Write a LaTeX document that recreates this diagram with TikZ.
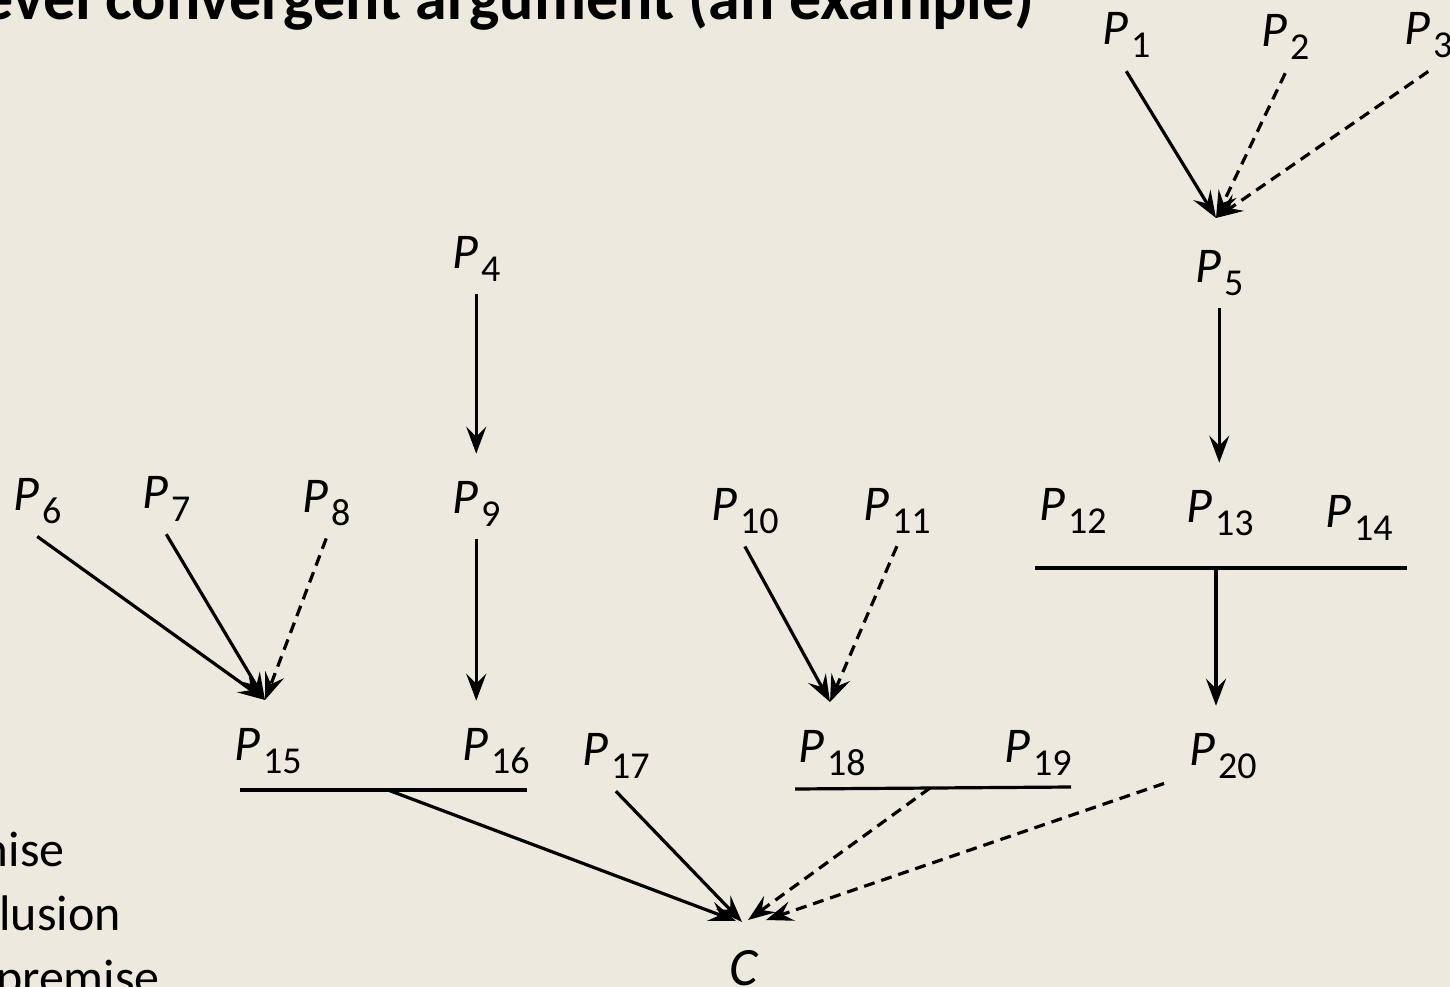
\documentclass[tikz,border=0pt]{standalone}
\usepackage{fontspec}
\setmainfont{Carlito}
\usetikzlibrary{arrows.meta,calc}
\definecolor{bg}{RGB}{237,233,223}
\newcommand\plab[1]{\fontsize{50}{50}\selectfont\textit{P}\hspace{3pt}\raisebox{-13pt}{\fontsize{38}{38}\selectfont #1}}
\begin{document}
\begin{tikzpicture}[x=1pt,y=-1pt,
  lab/.style={anchor=base west, inner xsep=0pt, inner ysep=13pt},
  con/.style={line width=3.2pt, -{Stealth[length=27pt,width=20pt,inset=10pt]}},
  dsh/.style={con, dash pattern=on 11pt off 7pt},
  vcon/.style={con, shorten >=14pt},
  bar/.style={line width=3.2pt},
  side/.style={inner sep=0pt, font=\fontsize{50}{50}\selectfont}]
\useasboundingbox (0,0) rectangle (1450,987);
\fill[bg] (0,0) rectangle (1450,987);
\clip (0,0) rectangle (1450,987);

% title (cut at top)
\node[anchor=base east, inner sep=0pt, font=\fontsize{64}{64}\selectfont\bfseries] (title) at (1035,20) {Multi-level convergent argument (an example)};

% left list (cut at left)
\node[side, anchor=base east] (l1) at (65,866) {premise};
\node[side, anchor=base east] (l2) at (121,930) {conclusion};
\node[side, anchor=base east] (l3) at (160,994) {premise};

% labels
\node[lab] (p1) at (1102,45) {\plab{1}};
\node[lab] (p2) at (1261,47) {\plab{2}};
\node[lab] (p3) at (1404,45) {\plab{3}};
\node[lab] (p4) at (452,268) {\plab{4}};
\node[lab] (p5) at (1195,282) {\plab{5}};
\node[lab] (p6) at (13,510) {\plab{6}};
\node[lab] (p7) at (142,508) {\plab{7}};
\node[lab] (p8) at (302,512) {\plab{8}};
\node[lab] (p9) at (452,513) {\plab{9}};
\node[lab] (p10) at (711,520) {\plab{10}};
\node[lab] (p11) at (863,520) {\plab{11}};
\node[lab] (p12) at (1039,520) {\plab{12}};
\node[lab] (p13) at (1186,522) {\plab{13}};
\node[lab] (p14) at (1325,527) {\plab{14}};
\node[lab] (p15) at (234,760) {\plab{15}};
\node[lab] (p16) at (462,760) {\plab{16}};
\node[lab] (p17) at (582,765) {\plab{17}};
\node[lab] (p18) at (798,762) {\plab{18}};
\node[lab] (p19) at (1004,762) {\plab{19}};
\node[lab] (p20) at (1189,765) {\plab{20}};
\node[anchor=base, inner sep=0pt, font=\fontsize{54}{54}\selectfont\itshape] (c) at (744,985) {C};

% junction / tip coordinates
\coordinate (t5) at (1216,218);
\coordinate (t15) at (265,700);
\coordinate (t18) at (830,702);
\coordinate (b12l) at (1035,568);
\coordinate (b12r) at (1407,568);
\coordinate (j13) at (1216,568);
\coordinate (b15l) at (240,790);
\coordinate (b15r) at (527,790);
\coordinate (j15) at (388,790);
\coordinate (b18l) at (795,789);
\coordinate (b18r) at (1071,787);
\coordinate (j18) at (930,788);
\coordinate (tc1) at (736,921);
\coordinate (tc2) at (742,922);
\coordinate (tc3) at (748,920);
\coordinate (tc4) at (766,920);

% top cluster
\draw[con] (p1.south) -- (t5);
\draw[dsh] (p2.south) -- (t5);
\draw[dsh] (p3.south) -- (t5);
\draw[vcon] (p5.south) -- (p5.south |- p13.north);

% P4 -> P9 -> P16
\draw[vcon] (p4.south) -- (p4.south |- p9.north);
\draw[vcon] (p9.south) -- (p9.south |- p16.north);

% P6 P7 P8 -> P15
\draw[con] (p6.south) -- (t15);
\draw[con] (p7.south) -- (t15);
\draw[dsh] (p8.south) -- (t15);

% P10 P11 -> P18
\draw[con] (p10.south) -- (t18);
\draw[dsh] (p11.south) -- (t18);

% P12 P13 P14 -> P20
\draw[bar] (b12l) -- (b12r);
\draw[vcon] (j13) -- (j13 |- p20.north);

% into C
\draw[bar] (b15l) -- (b15r);
\draw[bar] (b18l) -- (b18r);
\draw[con] (j15) -- (tc1);
\draw[con] (p17.south) -- (tc2);
\draw[dsh] (j18) -- (tc3);
\draw[dsh] ($(p20.south west)+(-25,-8)$) -- (tc4);
\end{tikzpicture}
\end{document}
